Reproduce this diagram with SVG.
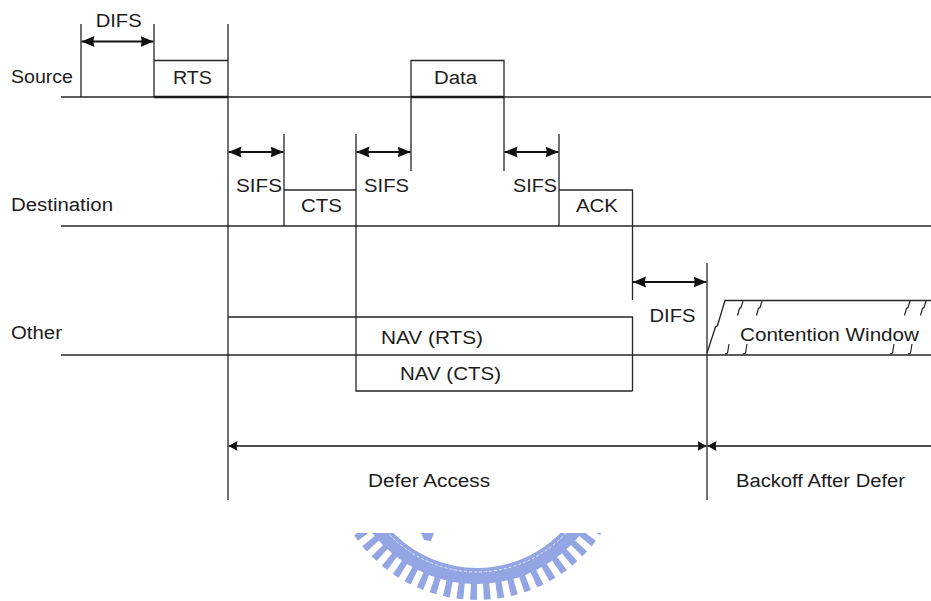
<svg xmlns="http://www.w3.org/2000/svg" width="931" height="601" viewBox="0 0 931 601">
<style>
.ln{stroke:#262626;stroke-width:1.3;fill:none}
.thick{stroke:#1a1a1a;stroke-width:2.6;fill:none}
.t{font-family:"Liberation Sans",Arial,Helvetica,sans-serif;font-size:18px;fill:#1c1c1c}
.dim{stroke:#111;stroke-width:1.8;fill:none}
.dim2{stroke:#111;stroke-width:1.5;fill:none}
.hatch{stroke:#262626;stroke-width:1.2;fill:none}
.wm{fill:none;stroke:#93a6e3}
</style>
<defs>
<marker id="ah" viewBox="0 0 13 12" refX="13" refY="6" markerWidth="13" markerHeight="12" markerUnits="userSpaceOnUse" orient="auto-start-reverse">
<path d="M0,0.5 L13,6 L0,11.5 Q2,6 0,0.5 z" fill="#111"/>
</marker>
<marker id="ahs" viewBox="0 0 9 11" refX="9" refY="5.5" markerWidth="9" markerHeight="11" markerUnits="userSpaceOnUse" orient="auto-start-reverse">
<path d="M0,0.5 L9,5.5 L0,10.5 Q1.5,5.5 0,0.5 z" fill="#111"/>
</marker>
<clipPath id="wmclip"><rect x="0" y="533" width="931" height="68"/></clipPath>
</defs>
<rect width="931" height="601" fill="#fff"/>

<!-- watermark -->
<g id="watermark" clip-path="url(#wmclip)">
<circle class="wm" cx="477" cy="451" r="125" stroke-width="16"/>
<circle class="wm" cx="477" cy="451" r="140" stroke-width="18" pathLength="68" stroke-dasharray="0.5 0.5"/>
<circle cx="477" cy="451" r="121" fill="none" stroke="#e3e9fb" stroke-width="1" stroke-dasharray="3 2"/>
<path d="M421,533 L434,533 L431,541 L424,540 z" fill="#93a6e3"/>
</g>

<!-- lanes -->
<g id="lanes">
<g id="lane-source">
<line class="ln" x1="61" y1="97" x2="931" y2="97"/>
<text class="t" x="11" y="83" textLength="62" lengthAdjust="spacingAndGlyphs">Source</text>
</g>
<g id="lane-destination">
<line class="ln" x1="61" y1="226" x2="931" y2="226"/>
<text class="t" x="11" y="211" textLength="102" lengthAdjust="spacingAndGlyphs">Destination</text>
</g>
<g id="lane-other">
<line class="ln" x1="61" y1="355" x2="931" y2="355"/>
<text class="t" x="11" y="339" textLength="51" lengthAdjust="spacingAndGlyphs">Other</text>
</g>
</g>

<!-- frames -->
<g id="rts">
<path class="ln" d="M154,97 V60.5 H228"/>
<line class="thick" x1="154" y1="97" x2="228" y2="97"/>
<text class="t" x="173" y="84" textLength="39" lengthAdjust="spacingAndGlyphs">RTS</text>
</g>
<g id="data">
<path class="ln" d="M411,171 V60.5 H504 V171"/>
<line class="thick" x1="411" y1="97" x2="504" y2="97"/>
<text class="t" x="434" y="84" textLength="43" lengthAdjust="spacingAndGlyphs">Data</text>
</g>
<g id="cts">
<path class="ln" d="M284,134 V226 M284,190 H356"/>
<text class="t" x="301" y="212" textLength="41" lengthAdjust="spacingAndGlyphs">CTS</text>
</g>
<g id="ack">
<path class="ln" d="M559,134 V226 M559,190 H632.5 V300"/>
<text class="t" x="576" y="212" textLength="42" lengthAdjust="spacingAndGlyphs">ACK</text>
</g>
<g id="nav-rts">
<path class="ln" d="M228,317 H632.5 V391"/>
<text class="t" x="381" y="344" textLength="102" lengthAdjust="spacingAndGlyphs">NAV (RTS)</text>
</g>
<g id="nav-cts">
<path class="ln" d="M356,134 V391 H632.5"/>
<text class="t" x="400" y="380" textLength="101" lengthAdjust="spacingAndGlyphs">NAV (CTS)</text>
</g>
<g id="contention-window">
<path class="ln" d="M707,353 L715.5,327 L717.5,325.5 L725,300.5 H931"/>
<path class="hatch" d="M743,301 L741,307.5 L739.5,308.5 L737.5,315.5 M762,301 L760,307.5 L758.5,308.5 L756.5,315.5 M910,301 L908,307.5 L906.5,308.5 L904.5,315.5 M926,301 L924,307.5 L922.5,308.5 L920.5,315.5"/>
<path class="hatch" d="M729,344 L727.5,353 L725,354 M747,344 L745.5,353 L743,354 M894,344 L892.5,353 L890,354 M912,344 L910.5,353 L908,354"/>
<text class="t" x="740" y="341" textLength="179" lengthAdjust="spacingAndGlyphs">Contention Window</text>
</g>

<!-- timing lines and labels -->
<g id="timing">
<line class="ln" x1="81" y1="24" x2="81" y2="97"/>
<line class="ln" x1="154" y1="24" x2="154" y2="60"/>
<line class="ln" x1="228" y1="24" x2="228" y2="500"/>
<line class="ln" x1="707" y1="263" x2="707" y2="500"/>
<text class="t" x="95.7" y="27" textLength="46" lengthAdjust="spacingAndGlyphs">DIFS</text>
<text class="t" x="236" y="192" textLength="46" lengthAdjust="spacingAndGlyphs">SIFS</text>
<text class="t" x="364" y="192" textLength="45" lengthAdjust="spacingAndGlyphs">SIFS</text>
<text class="t" x="513" y="192" textLength="44" lengthAdjust="spacingAndGlyphs">SIFS</text>
<text class="t" x="649.5" y="322" textLength="46" lengthAdjust="spacingAndGlyphs">DIFS</text>
<text class="t" x="368" y="487" textLength="122" lengthAdjust="spacingAndGlyphs">Defer Access</text>
<text class="t" x="736" y="487" textLength="169" lengthAdjust="spacingAndGlyphs">Backoff After Defer</text>
</g>

<!-- connectors (dimension arrows) -->
<g id="connectors">
<line class="dim" x1="81.5" y1="41.5" x2="153.5" y2="41.5" marker-start="url(#ah)" marker-end="url(#ah)"/>
<line class="dim" x1="228.5" y1="152" x2="283.5" y2="152" marker-start="url(#ah)" marker-end="url(#ah)"/>
<line class="dim" x1="356.5" y1="152" x2="410.5" y2="152" marker-start="url(#ah)" marker-end="url(#ah)"/>
<line class="dim" x1="504.5" y1="152" x2="558.5" y2="152" marker-start="url(#ah)" marker-end="url(#ah)"/>
<line class="dim" x1="633" y1="282" x2="706.5" y2="282" marker-start="url(#ah)" marker-end="url(#ah)"/>
<line class="dim2" x1="228.5" y1="446" x2="706.5" y2="446" marker-start="url(#ahs)" marker-end="url(#ahs)"/>
<line class="dim2" x1="707.5" y1="446" x2="931" y2="446" marker-start="url(#ahs)"/>
</g>
</svg>
